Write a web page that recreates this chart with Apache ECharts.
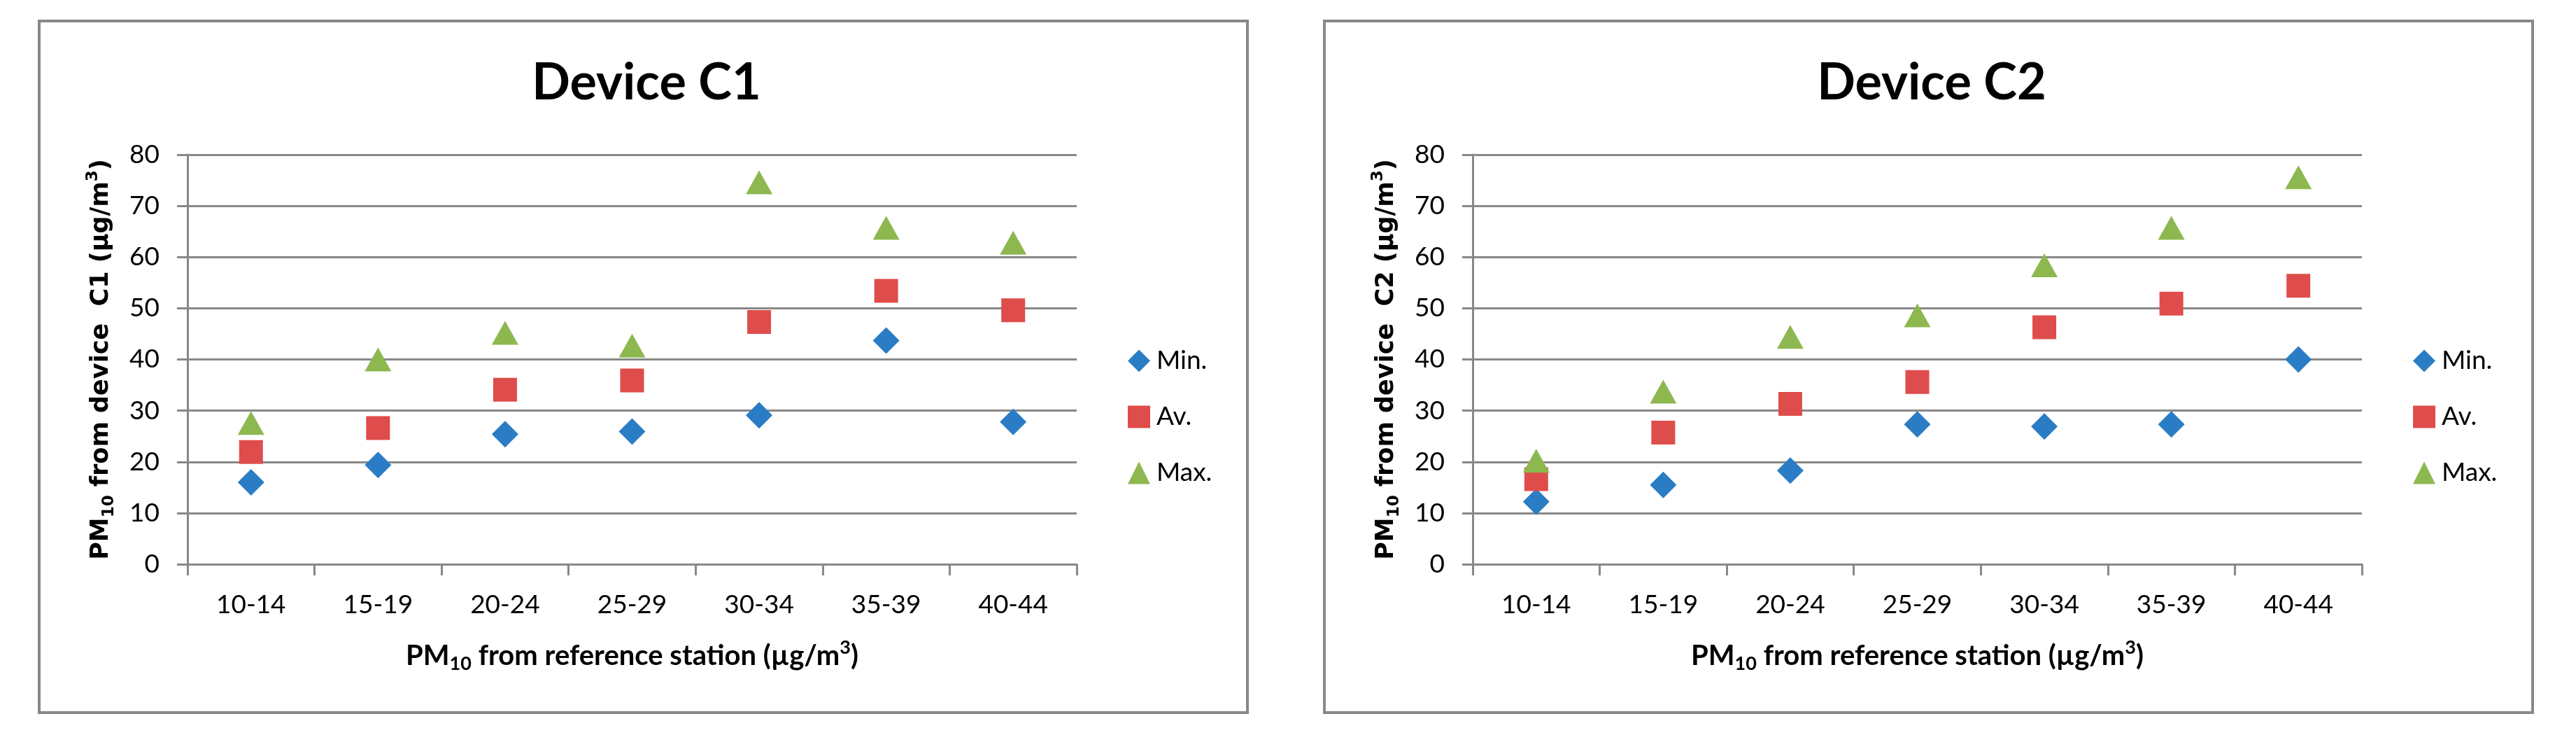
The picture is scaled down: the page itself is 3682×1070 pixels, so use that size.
<!DOCTYPE html>
<html><head><meta charset="utf-8">
<script src="https://cdn.jsdelivr.net/npm/echarts@6/dist/echarts.min.js"></script>
<style>html,body{margin:0;padding:0;background:#fff}#c{width:3682px;height:1070px}</style>
</head><body><div id="c"></div>
<script>
// ---- data ----
const categories = ['10-14','15-19','20-24','25-29','30-34','35-39','40-44'];
const seriesNames = ['Min.','Av.','Max.'];
const titles = ['Device C1','Device C2'];
const devices = ['C1','C2'];
const c1Min = [16.0, 19.4, 25.4, 25.9, 29.1, 43.7, 27.8];
const c1Av  = [21.9, 26.6, 34.1, 35.9, 47.3, 53.4, 49.6];
const c1Max = [27.6, 40.0, 45.2, 42.7, 74.6, 65.7, 62.8];
const c2Min = [12.2, 15.5, 18.3, 27.3, 26.9, 27.3, 40.0];
const c2Av  = [16.6, 25.7, 31.3, 35.6, 46.3, 50.9, 54.4];
const c2Max = [20.2, 33.7, 44.4, 48.6, 58.4, 65.7, 75.6];
const yMin = 0, yMax = 80, yStep = 10;

// ---- styling ----
const GRAY = '#888888';
const COLORS = ['#2A7DC4', '#DE4D4B', '#8DB850'];
const SYMBOLS = ['diamond', 'rect', 'triangle'];
const SIZES = [[38, 38], [34, 34], [38, 34]];
const panelData = [[c1Min, c1Av, c1Max], [c2Min, c2Av, c2Max]];
const OFF = 1837;

const option = {
  animation: false,
  backgroundColor: '#fff',
  title: [], grid: [], xAxis: [], yAxis: [], series: [], legend: [],
  graphic: []
};

const xName = '{b|PM}{sub|10}{b| from reference station (µg/m}{sup|3}{b|)}';
const xRich = {
  b: {fontFamily: 'Lato', fontWeight: 'bold', fontSize: 40, lineHeight: 50, color: '#000'},
  sub: {fontFamily: 'Lato', fontWeight: 'bold', fontSize: 27, lineHeight: 24, verticalAlign: 'bottom', color: '#000'},
  sup: {fontFamily: 'Lato', fontWeight: 'bold', fontSize: 27, lineHeight: 24, verticalAlign: 'top', color: '#000'}
};
const yRich = {
  b: {fontFamily: 'DejaVu Sans', fontWeight: 'bold', fontSize: 35, lineHeight: 46, color: '#000'},
  sub: {fontFamily: 'DejaVu Sans', fontWeight: 'bold', fontSize: 23, lineHeight: 22, verticalAlign: 'bottom', color: '#000'},
  sup: {fontFamily: 'DejaVu Sans', fontWeight: 'bold', fontSize: 23, lineHeight: 22, verticalAlign: 'top', color: '#000'}
};

for (let p = 0; p < 2; p++) {
  const dx = p * OFF;
  option.graphic.push({
    type: 'rect', silent: true,
    shape: {x: 56 + dx, y: 30, width: 1727, height: 988},
    style: {fill: 'none', stroke: GRAY, lineWidth: 4}
  });
  option.title.push({
    text: titles[p], left: 919 + dx, top: 78, textAlign: 'center',
    textStyle: {fontFamily: 'Lato', fontWeight: 'bold', fontSize: 72, color: '#000'}
  });
  option.grid.push({left: 268 + dx, top: 221, width: 1271, height: 585, containLabel: false});
  option.xAxis.push({
    type: 'category', gridIndex: p, data: categories, boundaryGap: true,
    axisLine: {show: true, lineStyle: {color: GRAY, width: 3}},
    axisTick: {show: true, length: 16, lineStyle: {color: GRAY, width: 3}},
    axisLabel: {margin: 40, fontFamily: 'Lato', fontSize: 37, color: '#000'},
    splitLine: {show: false},
    name: xName, nameLocation: 'middle', nameGap: 106,
    nameTextStyle: {rich: xRich}
  });
  option.yAxis.push({
    type: 'value', gridIndex: p, min: yMin, max: yMax, interval: yStep,
    axisLine: {show: true, lineStyle: {color: GRAY, width: 3}},
    axisTick: {show: true, length: 15, lineStyle: {color: GRAY, width: 3}},
    axisLabel: {margin: 40, fontFamily: 'Lato', fontSize: 37, color: '#000'},
    splitLine: {show: true, lineStyle: {color: GRAY, width: 3}},
    name: '{b|PM}{sub|10}{b| from device  ' + devices[p] + ' (µg/m}{sup|3}{b|)}',
    nameLocation: 'middle', nameRotate: 90, nameGap: 100,
    nameTextStyle: {rich: yRich}
  });
  const legendData = [];
  for (let s = 0; s < 3; s++) {
    const id = 'p' + p + 's' + s;
    legendData.push({name: seriesNames[s] + (p ? '\u200b' : ''), icon: SYMBOLS[s]});
    option.series.push({
      type: 'scatter', name: seriesNames[s] + (p ? '\u200b' : ''), id: id,
      xAxisIndex: p, yAxisIndex: p,
      data: panelData[p][s],
      symbol: SYMBOLS[s], symbolSize: SIZES[s],
      itemStyle: {color: COLORS[s], opacity: 1}
    });
  }
  option.legend.push({
    orient: 'vertical', left: 1607 + dx, top: 492,
    itemWidth: 32, itemHeight: 32, itemGap: 43,
    data: legendData, selectedMode: false,
    textStyle: {fontFamily: 'Lato', fontSize: 37, color: '#000', lineHeight: 32, padding: [0, 0, 0, 4]},
    formatter: n => n.replace('\u200b', '')
  });
}

const chart = echarts.init(document.getElementById('c'), null, {renderer: 'canvas'});
chart.setOption(option);
</script></body></html>
